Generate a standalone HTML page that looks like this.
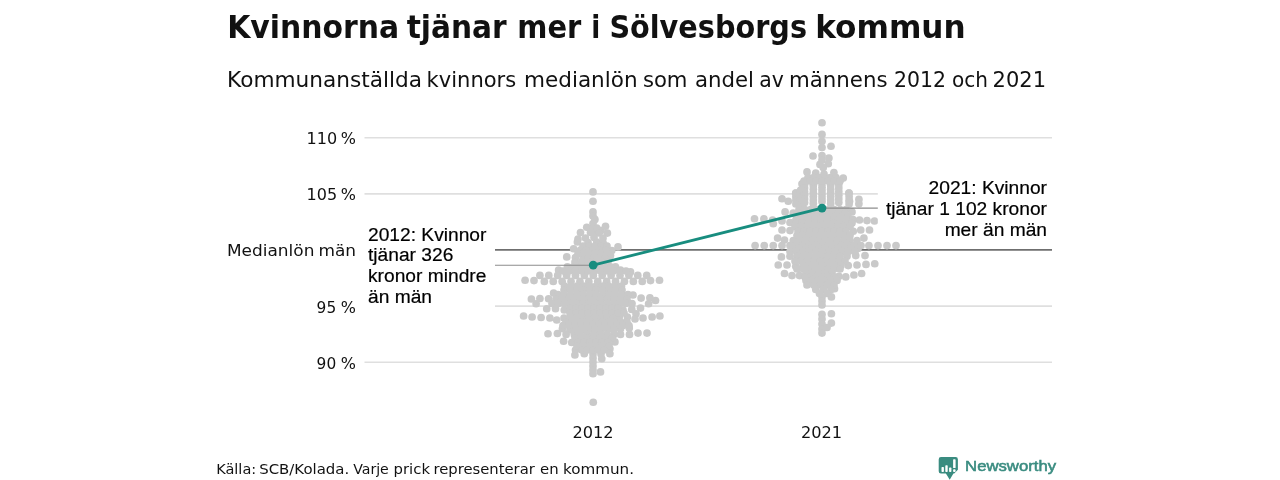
<!DOCTYPE html>
<html lang="sv">
<head>
<meta charset="utf-8">
<title>Kvinnorna tjänar mer i Sölvesborgs kommun</title>
<style>
html,body{margin:0;padding:0;background:#fff;}
body{width:1280px;height:480px;overflow:hidden;}
svg{display:block;will-change:transform;}
.os{font-family:"DejaVu Sans","Liberation Sans",sans-serif;fill:#111;}
.osb{font-family:"DejaVu Sans Condensed","DejaVu Sans","Liberation Sans",sans-serif;font-weight:bold;fill:#111;}
.ar{font-family:"Liberation Sans",Arial,Helvetica,sans-serif;fill:#000;stroke:#000;stroke-width:0.2px;font-size:19.2px;}
.tick{font-size:16.2px;}
</style>
</head>
<body>
<svg width="1280" height="480" viewBox="0 0 1280 480">
<rect width="1280" height="480" fill="#ffffff"/>

<!-- title -->
<g class="osb" font-size="32">
<text x="227.2" y="38" textLength="172" lengthAdjust="spacingAndGlyphs">Kvinnorna</text>
<text x="406.7" y="38" textLength="100" lengthAdjust="spacingAndGlyphs">tjänar</text>
<text x="517.3" y="38" textLength="64" lengthAdjust="spacingAndGlyphs">mer</text>
<text x="591.2" y="38" textLength="9" lengthAdjust="spacingAndGlyphs">i</text>
<text x="609.4" y="38" textLength="197.6" lengthAdjust="spacingAndGlyphs">Sölvesborgs</text>
<text x="815.3" y="38" textLength="150.4" lengthAdjust="spacingAndGlyphs">kommun</text>
</g>

<!-- subtitle -->
<g class="os" font-size="20.6">
<text x="227.1" y="86.75" textLength="195" lengthAdjust="spacingAndGlyphs">Kommunanställda</text>
<text x="426.6" y="86.75" textLength="89.6" lengthAdjust="spacingAndGlyphs">kvinnors</text>
<text x="524" y="86.75" textLength="113.6" lengthAdjust="spacingAndGlyphs">medianlön</text>
<text x="642.9" y="86.75" textLength="44.6" lengthAdjust="spacingAndGlyphs">som</text>
<text x="695" y="86.75" textLength="59" lengthAdjust="spacingAndGlyphs">andel</text>
<text x="759.2" y="86.75" textLength="24.6" lengthAdjust="spacingAndGlyphs">av</text>
<text x="789" y="86.75" textLength="98.6" lengthAdjust="spacingAndGlyphs">männens</text>
<text x="894" y="86.75" textLength="52" lengthAdjust="spacingAndGlyphs">2012</text>
<text x="952" y="86.75" textLength="36" lengthAdjust="spacingAndGlyphs">och</text>
<text x="992.6" y="86.75" textLength="53.4" lengthAdjust="spacingAndGlyphs">2021</text>
</g>

<!-- gridlines -->
<g stroke="#dfdfdf" stroke-width="1.6" fill="none">
<line x1="364.5" y1="137.7" x2="1052" y2="137.7"/>
<line x1="364.5" y1="193.9" x2="1052" y2="193.9"/>
<line x1="364.5" y1="306.1" x2="1052" y2="306.1"/>
<line x1="364.5" y1="362.3" x2="1052" y2="362.3"/>
</g>
<line x1="364.5" y1="249.9" x2="1052" y2="249.9" stroke="#6f6f6f" stroke-width="1.6"/>

<!-- y tick labels -->
<g class="os tick">
<text x="306.6" y="144" textLength="30.6" lengthAdjust="spacingAndGlyphs">110</text>
<text x="340.8" y="144" textLength="15.2" lengthAdjust="spacingAndGlyphs">%</text>
<text x="306.6" y="200.1" textLength="30.6" lengthAdjust="spacingAndGlyphs">105</text>
<text x="340.8" y="200.1" textLength="15.2" lengthAdjust="spacingAndGlyphs">%</text>
<text x="227" y="256.1" textLength="87.4" lengthAdjust="spacingAndGlyphs">Medianlön</text>
<text x="318.5" y="256.1" textLength="37.6" lengthAdjust="spacingAndGlyphs">män</text>
<text x="316.6" y="312.5" textLength="19.6" lengthAdjust="spacingAndGlyphs">95</text>
<text x="340.8" y="312.5" textLength="15.2" lengthAdjust="spacingAndGlyphs">%</text>
<text x="316.6" y="368.5" textLength="19.6" lengthAdjust="spacingAndGlyphs">90</text>
<text x="340.8" y="368.5" textLength="15.2" lengthAdjust="spacingAndGlyphs">%</text>
</g>

<!-- swarm 2012 -->
<g fill="#c9c9c9">
<circle cx="593.00" cy="191.90" r="3.85"/>
<circle cx="593.00" cy="201.25" r="3.85"/>
<circle cx="593.00" cy="211.90" r="3.85"/>
<circle cx="593.00" cy="216.00" r="3.85"/>
<circle cx="594.90" cy="219.40" r="3.85"/>
<circle cx="593.00" cy="223.50" r="3.85"/>
<circle cx="593.00" cy="228.50" r="3.85"/>
<circle cx="601.00" cy="230.50" r="3.85"/>
<circle cx="594.50" cy="233.50" r="3.85"/>
<circle cx="586.75" cy="227.25" r="3.85"/>
<circle cx="596.75" cy="228.10" r="3.85"/>
<circle cx="605.50" cy="226.25" r="3.85"/>
<circle cx="580.50" cy="232.50" r="3.85"/>
<circle cx="590.50" cy="232.50" r="3.85"/>
<circle cx="599.00" cy="233.00" r="3.85"/>
<circle cx="607.40" cy="233.10" r="3.85"/>
<circle cx="578.00" cy="239.00" r="3.85"/>
<circle cx="585.50" cy="238.00" r="3.85"/>
<circle cx="594.00" cy="237.50" r="3.85"/>
<circle cx="603.00" cy="238.00" r="3.85"/>
<circle cx="577.40" cy="242.00" r="3.85"/>
<circle cx="588.00" cy="242.50" r="3.85"/>
<circle cx="596.75" cy="242.00" r="3.85"/>
<circle cx="603.00" cy="242.50" r="3.85"/>
<circle cx="573.60" cy="248.75" r="3.85"/>
<circle cx="580.50" cy="250.00" r="3.85"/>
<circle cx="618.00" cy="246.90" r="3.85"/>
<circle cx="611.75" cy="250.60" r="3.85"/>
<circle cx="566.75" cy="256.90" r="3.85"/>
<circle cx="575.50" cy="257.50" r="3.85"/>
<circle cx="583.00" cy="258.75" r="3.85"/>
<circle cx="610.50" cy="255.60" r="3.85"/>
<circle cx="567.40" cy="266.90" r="3.85"/>
<circle cx="558.60" cy="270.00" r="3.85"/>
<circle cx="615.50" cy="266.90" r="3.85"/>
<circle cx="620.50" cy="270.00" r="3.85"/>
<circle cx="606.00" cy="267.00" r="3.85"/>
<circle cx="630.50" cy="271.90" r="3.85"/>
<circle cx="525.10" cy="280.25" r="3.85"/>
<circle cx="534.00" cy="280.60" r="3.85"/>
<circle cx="650.50" cy="280.60" r="3.85"/>
<circle cx="659.50" cy="280.25" r="3.85"/>
<circle cx="531.40" cy="299.00" r="3.85"/>
<circle cx="539.90" cy="298.50" r="3.85"/>
<circle cx="548.60" cy="298.75" r="3.85"/>
<circle cx="553.60" cy="293.10" r="3.85"/>
<circle cx="633.00" cy="295.00" r="3.85"/>
<circle cx="641.10" cy="298.10" r="3.85"/>
<circle cx="649.90" cy="297.75" r="3.85"/>
<circle cx="655.50" cy="300.50" r="3.85"/>
<circle cx="536.10" cy="303.75" r="3.85"/>
<circle cx="648.60" cy="303.75" r="3.85"/>
<circle cx="546.75" cy="308.75" r="3.85"/>
<circle cx="555.50" cy="308.75" r="3.85"/>
<circle cx="564.25" cy="310.00" r="3.85"/>
<circle cx="623.00" cy="310.00" r="3.85"/>
<circle cx="631.75" cy="309.40" r="3.85"/>
<circle cx="640.50" cy="308.10" r="3.85"/>
<circle cx="636.00" cy="313.75" r="3.85"/>
<circle cx="523.60" cy="316.00" r="3.85"/>
<circle cx="532.10" cy="317.00" r="3.85"/>
<circle cx="541.10" cy="317.50" r="3.85"/>
<circle cx="549.90" cy="318.00" r="3.85"/>
<circle cx="556.75" cy="320.00" r="3.85"/>
<circle cx="619.25" cy="317.00" r="3.85"/>
<circle cx="627.40" cy="317.00" r="3.85"/>
<circle cx="635.00" cy="319.00" r="3.85"/>
<circle cx="643.00" cy="318.00" r="3.85"/>
<circle cx="652.10" cy="317.00" r="3.85"/>
<circle cx="659.90" cy="316.00" r="3.85"/>
<circle cx="562.40" cy="328.75" r="3.85"/>
<circle cx="569.90" cy="330.00" r="3.85"/>
<circle cx="620.50" cy="328.75" r="3.85"/>
<circle cx="629.25" cy="328.10" r="3.85"/>
<circle cx="548.00" cy="333.75" r="3.85"/>
<circle cx="557.40" cy="333.50" r="3.85"/>
<circle cx="566.10" cy="334.40" r="3.85"/>
<circle cx="574.25" cy="334.40" r="3.85"/>
<circle cx="620.50" cy="334.40" r="3.85"/>
<circle cx="629.50" cy="334.40" r="3.85"/>
<circle cx="638.00" cy="333.10" r="3.85"/>
<circle cx="647.00" cy="333.10" r="3.85"/>
<circle cx="563.60" cy="341.25" r="3.85"/>
<circle cx="571.75" cy="342.50" r="3.85"/>
<circle cx="614.90" cy="341.90" r="3.85"/>
<circle cx="575.50" cy="350.00" r="3.85"/>
<circle cx="609.90" cy="348.75" r="3.85"/>
<circle cx="574.90" cy="355.00" r="3.85"/>
<circle cx="584.25" cy="353.75" r="3.85"/>
<circle cx="593.00" cy="354.00" r="3.85"/>
<circle cx="601.00" cy="354.00" r="3.85"/>
<circle cx="609.90" cy="353.75" r="3.85"/>
<circle cx="593.00" cy="358.00" r="3.85"/>
<circle cx="601.75" cy="358.75" r="3.85"/>
<circle cx="593.00" cy="362.00" r="3.85"/>
<circle cx="593.00" cy="366.00" r="3.85"/>
<circle cx="593.00" cy="370.00" r="3.85"/>
<circle cx="593.00" cy="373.75" r="3.85"/>
<circle cx="600.50" cy="371.90" r="3.85"/>
<circle cx="593.25" cy="402.25" r="3.85"/>
<circle cx="539.90" cy="275.40" r="3.85"/>
<circle cx="544.35" cy="281.40" r="3.85"/>
<circle cx="548.80" cy="275.40" r="3.85"/>
<circle cx="553.25" cy="281.40" r="3.85"/>
<circle cx="557.70" cy="275.40" r="3.85"/>
<circle cx="562.15" cy="281.40" r="3.85"/>
<circle cx="566.60" cy="275.40" r="3.85"/>
<circle cx="571.05" cy="281.40" r="3.85"/>
<circle cx="575.50" cy="275.40" r="3.85"/>
<circle cx="579.95" cy="281.40" r="3.85"/>
<circle cx="584.40" cy="275.40" r="3.85"/>
<circle cx="588.85" cy="281.40" r="3.85"/>
<circle cx="593.30" cy="275.40" r="3.85"/>
<circle cx="597.75" cy="281.40" r="3.85"/>
<circle cx="602.20" cy="275.40" r="3.85"/>
<circle cx="606.65" cy="281.40" r="3.85"/>
<circle cx="611.10" cy="275.40" r="3.85"/>
<circle cx="615.55" cy="281.40" r="3.85"/>
<circle cx="620.00" cy="275.40" r="3.85"/>
<circle cx="624.45" cy="281.40" r="3.85"/>
<circle cx="628.90" cy="275.40" r="3.85"/>
<circle cx="633.35" cy="281.40" r="3.85"/>
<circle cx="637.80" cy="275.40" r="3.85"/>
<circle cx="642.25" cy="281.40" r="3.85"/>
<circle cx="646.70" cy="275.40" r="3.85"/>
<circle cx="583.00" cy="246.00" r="3.85"/>
<circle cx="589.00" cy="246.00" r="3.85"/>
<circle cx="595.00" cy="246.00" r="3.85"/>
<circle cx="601.00" cy="246.00" r="3.85"/>
<circle cx="607.00" cy="246.00" r="3.85"/>
<circle cx="586.00" cy="250.00" r="3.85"/>
<circle cx="592.67" cy="250.00" r="3.85"/>
<circle cx="599.33" cy="250.00" r="3.85"/>
<circle cx="606.00" cy="250.00" r="3.85"/>
<circle cx="578.00" cy="253.50" r="3.85"/>
<circle cx="583.80" cy="253.50" r="3.85"/>
<circle cx="589.60" cy="253.50" r="3.85"/>
<circle cx="595.40" cy="253.50" r="3.85"/>
<circle cx="601.20" cy="253.50" r="3.85"/>
<circle cx="607.00" cy="253.50" r="3.85"/>
<circle cx="588.00" cy="258.00" r="3.85"/>
<circle cx="593.67" cy="258.00" r="3.85"/>
<circle cx="599.33" cy="258.00" r="3.85"/>
<circle cx="605.00" cy="258.00" r="3.85"/>
<circle cx="575.00" cy="262.00" r="3.85"/>
<circle cx="581.60" cy="262.00" r="3.85"/>
<circle cx="588.20" cy="262.00" r="3.85"/>
<circle cx="594.80" cy="262.00" r="3.85"/>
<circle cx="601.40" cy="262.00" r="3.85"/>
<circle cx="608.00" cy="262.00" r="3.85"/>
<circle cx="573.00" cy="267.00" r="3.85"/>
<circle cx="579.33" cy="267.00" r="3.85"/>
<circle cx="585.67" cy="267.00" r="3.85"/>
<circle cx="592.00" cy="267.00" r="3.85"/>
<circle cx="598.33" cy="267.00" r="3.85"/>
<circle cx="604.67" cy="267.00" r="3.85"/>
<circle cx="611.00" cy="267.00" r="3.85"/>
<circle cx="563.00" cy="271.00" r="3.85"/>
<circle cx="569.30" cy="271.00" r="3.85"/>
<circle cx="575.60" cy="271.00" r="3.85"/>
<circle cx="581.90" cy="271.00" r="3.85"/>
<circle cx="588.20" cy="271.00" r="3.85"/>
<circle cx="594.50" cy="271.00" r="3.85"/>
<circle cx="600.80" cy="271.00" r="3.85"/>
<circle cx="607.10" cy="271.00" r="3.85"/>
<circle cx="613.40" cy="271.00" r="3.85"/>
<circle cx="619.70" cy="271.00" r="3.85"/>
<circle cx="626.00" cy="271.00" r="3.85"/>
<circle cx="564.50" cy="286.00" r="3.85"/>
<circle cx="570.83" cy="286.00" r="3.85"/>
<circle cx="577.17" cy="286.00" r="3.85"/>
<circle cx="583.50" cy="286.00" r="3.85"/>
<circle cx="589.83" cy="286.00" r="3.85"/>
<circle cx="596.17" cy="286.00" r="3.85"/>
<circle cx="602.50" cy="286.00" r="3.85"/>
<circle cx="608.83" cy="286.00" r="3.85"/>
<circle cx="615.17" cy="286.00" r="3.85"/>
<circle cx="621.50" cy="286.00" r="3.85"/>
<circle cx="564.00" cy="290.00" r="3.85"/>
<circle cx="570.44" cy="290.00" r="3.85"/>
<circle cx="576.89" cy="290.00" r="3.85"/>
<circle cx="583.33" cy="290.00" r="3.85"/>
<circle cx="589.78" cy="290.00" r="3.85"/>
<circle cx="596.22" cy="290.00" r="3.85"/>
<circle cx="602.67" cy="290.00" r="3.85"/>
<circle cx="609.11" cy="290.00" r="3.85"/>
<circle cx="615.56" cy="290.00" r="3.85"/>
<circle cx="622.00" cy="290.00" r="3.85"/>
<circle cx="558.00" cy="294.50" r="3.85"/>
<circle cx="564.36" cy="294.50" r="3.85"/>
<circle cx="570.73" cy="294.50" r="3.85"/>
<circle cx="577.09" cy="294.50" r="3.85"/>
<circle cx="583.45" cy="294.50" r="3.85"/>
<circle cx="589.82" cy="294.50" r="3.85"/>
<circle cx="596.18" cy="294.50" r="3.85"/>
<circle cx="602.55" cy="294.50" r="3.85"/>
<circle cx="608.91" cy="294.50" r="3.85"/>
<circle cx="615.27" cy="294.50" r="3.85"/>
<circle cx="621.64" cy="294.50" r="3.85"/>
<circle cx="628.00" cy="294.50" r="3.85"/>
<circle cx="556.00" cy="299.00" r="3.85"/>
<circle cx="562.45" cy="299.00" r="3.85"/>
<circle cx="568.91" cy="299.00" r="3.85"/>
<circle cx="575.36" cy="299.00" r="3.85"/>
<circle cx="581.82" cy="299.00" r="3.85"/>
<circle cx="588.27" cy="299.00" r="3.85"/>
<circle cx="594.73" cy="299.00" r="3.85"/>
<circle cx="601.18" cy="299.00" r="3.85"/>
<circle cx="607.64" cy="299.00" r="3.85"/>
<circle cx="614.09" cy="299.00" r="3.85"/>
<circle cx="620.55" cy="299.00" r="3.85"/>
<circle cx="627.00" cy="299.00" r="3.85"/>
<circle cx="552.00" cy="303.50" r="3.85"/>
<circle cx="558.15" cy="303.50" r="3.85"/>
<circle cx="564.31" cy="303.50" r="3.85"/>
<circle cx="570.46" cy="303.50" r="3.85"/>
<circle cx="576.62" cy="303.50" r="3.85"/>
<circle cx="582.77" cy="303.50" r="3.85"/>
<circle cx="588.92" cy="303.50" r="3.85"/>
<circle cx="595.08" cy="303.50" r="3.85"/>
<circle cx="601.23" cy="303.50" r="3.85"/>
<circle cx="607.38" cy="303.50" r="3.85"/>
<circle cx="613.54" cy="303.50" r="3.85"/>
<circle cx="619.69" cy="303.50" r="3.85"/>
<circle cx="625.85" cy="303.50" r="3.85"/>
<circle cx="632.00" cy="303.50" r="3.85"/>
<circle cx="570.00" cy="308.00" r="3.85"/>
<circle cx="576.00" cy="308.00" r="3.85"/>
<circle cx="582.00" cy="308.00" r="3.85"/>
<circle cx="588.00" cy="308.00" r="3.85"/>
<circle cx="594.00" cy="308.00" r="3.85"/>
<circle cx="600.00" cy="308.00" r="3.85"/>
<circle cx="606.00" cy="308.00" r="3.85"/>
<circle cx="612.00" cy="308.00" r="3.85"/>
<circle cx="618.00" cy="308.00" r="3.85"/>
<circle cx="570.00" cy="313.00" r="3.85"/>
<circle cx="576.00" cy="313.00" r="3.85"/>
<circle cx="582.00" cy="313.00" r="3.85"/>
<circle cx="588.00" cy="313.00" r="3.85"/>
<circle cx="594.00" cy="313.00" r="3.85"/>
<circle cx="600.00" cy="313.00" r="3.85"/>
<circle cx="606.00" cy="313.00" r="3.85"/>
<circle cx="612.00" cy="313.00" r="3.85"/>
<circle cx="618.00" cy="313.00" r="3.85"/>
<circle cx="624.00" cy="313.00" r="3.85"/>
<circle cx="564.00" cy="318.00" r="3.85"/>
<circle cx="570.12" cy="318.00" r="3.85"/>
<circle cx="576.25" cy="318.00" r="3.85"/>
<circle cx="582.38" cy="318.00" r="3.85"/>
<circle cx="588.50" cy="318.00" r="3.85"/>
<circle cx="594.62" cy="318.00" r="3.85"/>
<circle cx="600.75" cy="318.00" r="3.85"/>
<circle cx="606.88" cy="318.00" r="3.85"/>
<circle cx="613.00" cy="318.00" r="3.85"/>
<circle cx="566.00" cy="322.00" r="3.85"/>
<circle cx="572.10" cy="322.00" r="3.85"/>
<circle cx="578.20" cy="322.00" r="3.85"/>
<circle cx="584.30" cy="322.00" r="3.85"/>
<circle cx="590.40" cy="322.00" r="3.85"/>
<circle cx="596.50" cy="322.00" r="3.85"/>
<circle cx="602.60" cy="322.00" r="3.85"/>
<circle cx="608.70" cy="322.00" r="3.85"/>
<circle cx="614.80" cy="322.00" r="3.85"/>
<circle cx="620.90" cy="322.00" r="3.85"/>
<circle cx="627.00" cy="322.00" r="3.85"/>
<circle cx="563.00" cy="325.50" r="3.85"/>
<circle cx="569.00" cy="325.50" r="3.85"/>
<circle cx="575.00" cy="325.50" r="3.85"/>
<circle cx="581.00" cy="325.50" r="3.85"/>
<circle cx="587.00" cy="325.50" r="3.85"/>
<circle cx="593.00" cy="325.50" r="3.85"/>
<circle cx="599.00" cy="325.50" r="3.85"/>
<circle cx="605.00" cy="325.50" r="3.85"/>
<circle cx="611.00" cy="325.50" r="3.85"/>
<circle cx="617.00" cy="325.50" r="3.85"/>
<circle cx="623.00" cy="325.50" r="3.85"/>
<circle cx="629.00" cy="325.50" r="3.85"/>
<circle cx="576.00" cy="329.50" r="3.85"/>
<circle cx="582.33" cy="329.50" r="3.85"/>
<circle cx="588.67" cy="329.50" r="3.85"/>
<circle cx="595.00" cy="329.50" r="3.85"/>
<circle cx="601.33" cy="329.50" r="3.85"/>
<circle cx="607.67" cy="329.50" r="3.85"/>
<circle cx="614.00" cy="329.50" r="3.85"/>
<circle cx="580.00" cy="334.40" r="3.85"/>
<circle cx="586.80" cy="334.40" r="3.85"/>
<circle cx="593.60" cy="334.40" r="3.85"/>
<circle cx="600.40" cy="334.40" r="3.85"/>
<circle cx="607.20" cy="334.40" r="3.85"/>
<circle cx="614.00" cy="334.40" r="3.85"/>
<circle cx="575.00" cy="338.00" r="3.85"/>
<circle cx="581.17" cy="338.00" r="3.85"/>
<circle cx="587.33" cy="338.00" r="3.85"/>
<circle cx="593.50" cy="338.00" r="3.85"/>
<circle cx="599.67" cy="338.00" r="3.85"/>
<circle cx="605.83" cy="338.00" r="3.85"/>
<circle cx="612.00" cy="338.00" r="3.85"/>
<circle cx="578.00" cy="342.00" r="3.85"/>
<circle cx="584.00" cy="342.00" r="3.85"/>
<circle cx="590.00" cy="342.00" r="3.85"/>
<circle cx="596.00" cy="342.00" r="3.85"/>
<circle cx="602.00" cy="342.00" r="3.85"/>
<circle cx="608.00" cy="342.00" r="3.85"/>
<circle cx="577.00" cy="346.00" r="3.85"/>
<circle cx="583.40" cy="346.00" r="3.85"/>
<circle cx="589.80" cy="346.00" r="3.85"/>
<circle cx="596.20" cy="346.00" r="3.85"/>
<circle cx="602.60" cy="346.00" r="3.85"/>
<circle cx="609.00" cy="346.00" r="3.85"/>
<circle cx="582.00" cy="350.00" r="3.85"/>
<circle cx="587.50" cy="350.00" r="3.85"/>
<circle cx="593.00" cy="350.00" r="3.85"/>
<circle cx="598.50" cy="350.00" r="3.85"/>
<circle cx="604.00" cy="350.00" r="3.85"/>
</g>
<!-- swarm 2021 -->
<g fill="#c9c9c9">
<circle cx="822.00" cy="122.75" r="3.85"/>
<circle cx="822.00" cy="134.40" r="3.85"/>
<circle cx="822.00" cy="141.25" r="3.85"/>
<circle cx="822.00" cy="147.50" r="3.85"/>
<circle cx="831.00" cy="146.25" r="3.85"/>
<circle cx="813.00" cy="156.00" r="3.85"/>
<circle cx="822.00" cy="155.60" r="3.85"/>
<circle cx="828.90" cy="158.10" r="3.85"/>
<circle cx="822.00" cy="160.00" r="3.85"/>
<circle cx="820.00" cy="164.40" r="3.85"/>
<circle cx="828.25" cy="163.75" r="3.85"/>
<circle cx="823.25" cy="167.50" r="3.85"/>
<circle cx="807.00" cy="171.90" r="3.85"/>
<circle cx="815.75" cy="173.10" r="3.85"/>
<circle cx="824.00" cy="174.00" r="3.85"/>
<circle cx="833.90" cy="172.50" r="3.85"/>
<circle cx="843.25" cy="178.10" r="3.85"/>
<circle cx="802.00" cy="183.75" r="3.85"/>
<circle cx="795.75" cy="193.10" r="3.85"/>
<circle cx="782.00" cy="198.75" r="3.85"/>
<circle cx="788.25" cy="201.25" r="3.85"/>
<circle cx="848.90" cy="193.10" r="3.85"/>
<circle cx="849.50" cy="201.25" r="3.85"/>
<circle cx="858.90" cy="199.40" r="3.85"/>
<circle cx="858.90" cy="203.75" r="3.85"/>
<circle cx="785.10" cy="211.90" r="3.85"/>
<circle cx="793.25" cy="213.10" r="3.85"/>
<circle cx="852.00" cy="211.90" r="3.85"/>
<circle cx="754.50" cy="218.75" r="3.85"/>
<circle cx="763.90" cy="218.75" r="3.85"/>
<circle cx="772.60" cy="220.00" r="3.85"/>
<circle cx="782.00" cy="221.00" r="3.85"/>
<circle cx="790.00" cy="222.50" r="3.85"/>
<circle cx="859.50" cy="220.00" r="3.85"/>
<circle cx="867.00" cy="220.60" r="3.85"/>
<circle cx="874.50" cy="221.00" r="3.85"/>
<circle cx="773.25" cy="223.75" r="3.85"/>
<circle cx="782.00" cy="230.00" r="3.85"/>
<circle cx="790.00" cy="230.60" r="3.85"/>
<circle cx="853.25" cy="231.25" r="3.85"/>
<circle cx="860.75" cy="230.00" r="3.85"/>
<circle cx="869.50" cy="230.00" r="3.85"/>
<circle cx="777.60" cy="238.10" r="3.85"/>
<circle cx="784.50" cy="240.00" r="3.85"/>
<circle cx="793.25" cy="240.60" r="3.85"/>
<circle cx="857.00" cy="240.60" r="3.85"/>
<circle cx="863.90" cy="238.10" r="3.85"/>
<circle cx="755.10" cy="245.60" r="3.85"/>
<circle cx="764.25" cy="245.60" r="3.85"/>
<circle cx="773.25" cy="245.60" r="3.85"/>
<circle cx="782.00" cy="245.60" r="3.85"/>
<circle cx="868.90" cy="245.60" r="3.85"/>
<circle cx="878.00" cy="245.60" r="3.85"/>
<circle cx="887.00" cy="245.60" r="3.85"/>
<circle cx="896.00" cy="245.60" r="3.85"/>
<circle cx="781.40" cy="256.90" r="3.85"/>
<circle cx="790.00" cy="256.25" r="3.85"/>
<circle cx="847.00" cy="256.25" r="3.85"/>
<circle cx="855.75" cy="255.60" r="3.85"/>
<circle cx="865.00" cy="255.60" r="3.85"/>
<circle cx="778.25" cy="265.00" r="3.85"/>
<circle cx="787.00" cy="265.00" r="3.85"/>
<circle cx="795.75" cy="266.25" r="3.85"/>
<circle cx="848.25" cy="265.60" r="3.85"/>
<circle cx="857.00" cy="265.00" r="3.85"/>
<circle cx="866.00" cy="264.40" r="3.85"/>
<circle cx="874.75" cy="263.75" r="3.85"/>
<circle cx="784.50" cy="273.50" r="3.85"/>
<circle cx="792.00" cy="275.60" r="3.85"/>
<circle cx="799.50" cy="275.60" r="3.85"/>
<circle cx="838.90" cy="276.25" r="3.85"/>
<circle cx="845.75" cy="276.90" r="3.85"/>
<circle cx="853.90" cy="275.00" r="3.85"/>
<circle cx="861.60" cy="273.50" r="3.85"/>
<circle cx="834.50" cy="288.75" r="3.85"/>
<circle cx="831.40" cy="296.90" r="3.85"/>
<circle cx="822.00" cy="297.00" r="3.85"/>
<circle cx="822.00" cy="301.00" r="3.85"/>
<circle cx="822.00" cy="305.00" r="3.85"/>
<circle cx="822.00" cy="314.40" r="3.85"/>
<circle cx="822.00" cy="319.00" r="3.85"/>
<circle cx="822.00" cy="324.00" r="3.85"/>
<circle cx="822.00" cy="329.00" r="3.85"/>
<circle cx="822.00" cy="333.10" r="3.85"/>
<circle cx="831.40" cy="313.75" r="3.85"/>
<circle cx="831.40" cy="323.10" r="3.85"/>
<circle cx="827.00" cy="327.50" r="3.85"/>
<circle cx="795.90" cy="193.10" r="3.85"/>
<circle cx="795.90" cy="196.70" r="3.85"/>
<circle cx="795.90" cy="200.30" r="3.85"/>
<circle cx="795.90" cy="203.90" r="3.85"/>
<circle cx="800.68" cy="190.00" r="3.85"/>
<circle cx="800.68" cy="193.60" r="3.85"/>
<circle cx="800.68" cy="197.20" r="3.85"/>
<circle cx="800.68" cy="200.80" r="3.85"/>
<circle cx="800.68" cy="204.40" r="3.85"/>
<circle cx="804.60" cy="184.50" r="3.85"/>
<circle cx="804.60" cy="188.10" r="3.85"/>
<circle cx="804.60" cy="191.70" r="3.85"/>
<circle cx="804.60" cy="195.30" r="3.85"/>
<circle cx="804.60" cy="198.90" r="3.85"/>
<circle cx="804.60" cy="202.50" r="3.85"/>
<circle cx="813.30" cy="182.00" r="3.85"/>
<circle cx="813.30" cy="185.60" r="3.85"/>
<circle cx="813.30" cy="189.20" r="3.85"/>
<circle cx="813.30" cy="192.80" r="3.85"/>
<circle cx="813.30" cy="196.40" r="3.85"/>
<circle cx="813.30" cy="200.00" r="3.85"/>
<circle cx="813.30" cy="203.60" r="3.85"/>
<circle cx="822.00" cy="180.00" r="3.85"/>
<circle cx="822.00" cy="183.60" r="3.85"/>
<circle cx="822.00" cy="187.20" r="3.85"/>
<circle cx="822.00" cy="190.80" r="3.85"/>
<circle cx="822.00" cy="194.40" r="3.85"/>
<circle cx="822.00" cy="198.00" r="3.85"/>
<circle cx="822.00" cy="201.60" r="3.85"/>
<circle cx="830.70" cy="182.00" r="3.85"/>
<circle cx="830.70" cy="185.60" r="3.85"/>
<circle cx="830.70" cy="189.20" r="3.85"/>
<circle cx="830.70" cy="192.80" r="3.85"/>
<circle cx="830.70" cy="196.40" r="3.85"/>
<circle cx="830.70" cy="200.00" r="3.85"/>
<circle cx="830.70" cy="203.60" r="3.85"/>
<circle cx="838.80" cy="184.50" r="3.85"/>
<circle cx="838.80" cy="188.10" r="3.85"/>
<circle cx="838.80" cy="191.70" r="3.85"/>
<circle cx="838.80" cy="195.30" r="3.85"/>
<circle cx="838.80" cy="198.90" r="3.85"/>
<circle cx="838.80" cy="202.50" r="3.85"/>
<circle cx="849.10" cy="193.10" r="3.85"/>
<circle cx="849.10" cy="196.70" r="3.85"/>
<circle cx="849.10" cy="200.30" r="3.85"/>
<circle cx="849.10" cy="203.90" r="3.85"/>
<circle cx="808.00" cy="177.50" r="3.85"/>
<circle cx="813.60" cy="177.50" r="3.85"/>
<circle cx="819.20" cy="177.50" r="3.85"/>
<circle cx="824.80" cy="177.50" r="3.85"/>
<circle cx="830.40" cy="177.50" r="3.85"/>
<circle cx="836.00" cy="177.50" r="3.85"/>
<circle cx="804.00" cy="181.00" r="3.85"/>
<circle cx="810.00" cy="181.00" r="3.85"/>
<circle cx="816.00" cy="181.00" r="3.85"/>
<circle cx="822.00" cy="181.00" r="3.85"/>
<circle cx="828.00" cy="181.00" r="3.85"/>
<circle cx="834.00" cy="181.00" r="3.85"/>
<circle cx="840.00" cy="181.00" r="3.85"/>
<circle cx="799.00" cy="209.50" r="3.85"/>
<circle cx="804.88" cy="209.50" r="3.85"/>
<circle cx="810.75" cy="209.50" r="3.85"/>
<circle cx="816.62" cy="209.50" r="3.85"/>
<circle cx="822.50" cy="209.50" r="3.85"/>
<circle cx="828.38" cy="209.50" r="3.85"/>
<circle cx="834.25" cy="209.50" r="3.85"/>
<circle cx="840.12" cy="209.50" r="3.85"/>
<circle cx="846.00" cy="209.50" r="3.85"/>
<circle cx="800.00" cy="213.00" r="3.85"/>
<circle cx="806.43" cy="213.00" r="3.85"/>
<circle cx="812.86" cy="213.00" r="3.85"/>
<circle cx="819.29" cy="213.00" r="3.85"/>
<circle cx="825.71" cy="213.00" r="3.85"/>
<circle cx="832.14" cy="213.00" r="3.85"/>
<circle cx="838.57" cy="213.00" r="3.85"/>
<circle cx="845.00" cy="213.00" r="3.85"/>
<circle cx="798.00" cy="216.50" r="3.85"/>
<circle cx="804.25" cy="216.50" r="3.85"/>
<circle cx="810.50" cy="216.50" r="3.85"/>
<circle cx="816.75" cy="216.50" r="3.85"/>
<circle cx="823.00" cy="216.50" r="3.85"/>
<circle cx="829.25" cy="216.50" r="3.85"/>
<circle cx="835.50" cy="216.50" r="3.85"/>
<circle cx="841.75" cy="216.50" r="3.85"/>
<circle cx="848.00" cy="216.50" r="3.85"/>
<circle cx="796.00" cy="219.50" r="3.85"/>
<circle cx="802.33" cy="219.50" r="3.85"/>
<circle cx="808.67" cy="219.50" r="3.85"/>
<circle cx="815.00" cy="219.50" r="3.85"/>
<circle cx="821.33" cy="219.50" r="3.85"/>
<circle cx="827.67" cy="219.50" r="3.85"/>
<circle cx="834.00" cy="219.50" r="3.85"/>
<circle cx="840.33" cy="219.50" r="3.85"/>
<circle cx="846.67" cy="219.50" r="3.85"/>
<circle cx="853.00" cy="219.50" r="3.85"/>
<circle cx="796.00" cy="223.00" r="3.85"/>
<circle cx="802.22" cy="223.00" r="3.85"/>
<circle cx="808.44" cy="223.00" r="3.85"/>
<circle cx="814.67" cy="223.00" r="3.85"/>
<circle cx="820.89" cy="223.00" r="3.85"/>
<circle cx="827.11" cy="223.00" r="3.85"/>
<circle cx="833.33" cy="223.00" r="3.85"/>
<circle cx="839.56" cy="223.00" r="3.85"/>
<circle cx="845.78" cy="223.00" r="3.85"/>
<circle cx="852.00" cy="223.00" r="3.85"/>
<circle cx="795.00" cy="226.50" r="3.85"/>
<circle cx="801.11" cy="226.50" r="3.85"/>
<circle cx="807.22" cy="226.50" r="3.85"/>
<circle cx="813.33" cy="226.50" r="3.85"/>
<circle cx="819.44" cy="226.50" r="3.85"/>
<circle cx="825.56" cy="226.50" r="3.85"/>
<circle cx="831.67" cy="226.50" r="3.85"/>
<circle cx="837.78" cy="226.50" r="3.85"/>
<circle cx="843.89" cy="226.50" r="3.85"/>
<circle cx="850.00" cy="226.50" r="3.85"/>
<circle cx="798.00" cy="231.00" r="3.85"/>
<circle cx="804.00" cy="231.00" r="3.85"/>
<circle cx="810.00" cy="231.00" r="3.85"/>
<circle cx="816.00" cy="231.00" r="3.85"/>
<circle cx="822.00" cy="231.00" r="3.85"/>
<circle cx="828.00" cy="231.00" r="3.85"/>
<circle cx="834.00" cy="231.00" r="3.85"/>
<circle cx="840.00" cy="231.00" r="3.85"/>
<circle cx="846.00" cy="231.00" r="3.85"/>
<circle cx="797.00" cy="235.50" r="3.85"/>
<circle cx="802.89" cy="235.50" r="3.85"/>
<circle cx="808.78" cy="235.50" r="3.85"/>
<circle cx="814.67" cy="235.50" r="3.85"/>
<circle cx="820.56" cy="235.50" r="3.85"/>
<circle cx="826.44" cy="235.50" r="3.85"/>
<circle cx="832.33" cy="235.50" r="3.85"/>
<circle cx="838.22" cy="235.50" r="3.85"/>
<circle cx="844.11" cy="235.50" r="3.85"/>
<circle cx="850.00" cy="235.50" r="3.85"/>
<circle cx="800.00" cy="240.60" r="3.85"/>
<circle cx="806.25" cy="240.60" r="3.85"/>
<circle cx="812.50" cy="240.60" r="3.85"/>
<circle cx="818.75" cy="240.60" r="3.85"/>
<circle cx="825.00" cy="240.60" r="3.85"/>
<circle cx="831.25" cy="240.60" r="3.85"/>
<circle cx="837.50" cy="240.60" r="3.85"/>
<circle cx="843.75" cy="240.60" r="3.85"/>
<circle cx="850.00" cy="240.60" r="3.85"/>
<circle cx="790.00" cy="245.60" r="3.85"/>
<circle cx="796.45" cy="245.60" r="3.85"/>
<circle cx="802.91" cy="245.60" r="3.85"/>
<circle cx="809.36" cy="245.60" r="3.85"/>
<circle cx="815.82" cy="245.60" r="3.85"/>
<circle cx="822.27" cy="245.60" r="3.85"/>
<circle cx="828.73" cy="245.60" r="3.85"/>
<circle cx="835.18" cy="245.60" r="3.85"/>
<circle cx="841.64" cy="245.60" r="3.85"/>
<circle cx="848.09" cy="245.60" r="3.85"/>
<circle cx="854.55" cy="245.60" r="3.85"/>
<circle cx="861.00" cy="245.60" r="3.85"/>
<circle cx="793.00" cy="248.50" r="3.85"/>
<circle cx="799.50" cy="248.50" r="3.85"/>
<circle cx="806.00" cy="248.50" r="3.85"/>
<circle cx="812.50" cy="248.50" r="3.85"/>
<circle cx="819.00" cy="248.50" r="3.85"/>
<circle cx="825.50" cy="248.50" r="3.85"/>
<circle cx="832.00" cy="248.50" r="3.85"/>
<circle cx="838.50" cy="248.50" r="3.85"/>
<circle cx="845.00" cy="248.50" r="3.85"/>
<circle cx="851.50" cy="248.50" r="3.85"/>
<circle cx="858.00" cy="248.50" r="3.85"/>
<circle cx="790.00" cy="251.50" r="3.85"/>
<circle cx="796.50" cy="251.50" r="3.85"/>
<circle cx="803.00" cy="251.50" r="3.85"/>
<circle cx="809.50" cy="251.50" r="3.85"/>
<circle cx="816.00" cy="251.50" r="3.85"/>
<circle cx="822.50" cy="251.50" r="3.85"/>
<circle cx="829.00" cy="251.50" r="3.85"/>
<circle cx="835.50" cy="251.50" r="3.85"/>
<circle cx="842.00" cy="251.50" r="3.85"/>
<circle cx="848.50" cy="251.50" r="3.85"/>
<circle cx="855.00" cy="251.50" r="3.85"/>
<circle cx="797.00" cy="256.00" r="3.85"/>
<circle cx="803.14" cy="256.00" r="3.85"/>
<circle cx="809.29" cy="256.00" r="3.85"/>
<circle cx="815.43" cy="256.00" r="3.85"/>
<circle cx="821.57" cy="256.00" r="3.85"/>
<circle cx="827.71" cy="256.00" r="3.85"/>
<circle cx="833.86" cy="256.00" r="3.85"/>
<circle cx="840.00" cy="256.00" r="3.85"/>
<circle cx="795.00" cy="261.00" r="3.85"/>
<circle cx="801.25" cy="261.00" r="3.85"/>
<circle cx="807.50" cy="261.00" r="3.85"/>
<circle cx="813.75" cy="261.00" r="3.85"/>
<circle cx="820.00" cy="261.00" r="3.85"/>
<circle cx="826.25" cy="261.00" r="3.85"/>
<circle cx="832.50" cy="261.00" r="3.85"/>
<circle cx="838.75" cy="261.00" r="3.85"/>
<circle cx="845.00" cy="261.00" r="3.85"/>
<circle cx="803.00" cy="265.60" r="3.85"/>
<circle cx="809.33" cy="265.60" r="3.85"/>
<circle cx="815.67" cy="265.60" r="3.85"/>
<circle cx="822.00" cy="265.60" r="3.85"/>
<circle cx="828.33" cy="265.60" r="3.85"/>
<circle cx="834.67" cy="265.60" r="3.85"/>
<circle cx="841.00" cy="265.60" r="3.85"/>
<circle cx="797.00" cy="269.00" r="3.85"/>
<circle cx="803.14" cy="269.00" r="3.85"/>
<circle cx="809.29" cy="269.00" r="3.85"/>
<circle cx="815.43" cy="269.00" r="3.85"/>
<circle cx="821.57" cy="269.00" r="3.85"/>
<circle cx="827.71" cy="269.00" r="3.85"/>
<circle cx="833.86" cy="269.00" r="3.85"/>
<circle cx="840.00" cy="269.00" r="3.85"/>
<circle cx="806.00" cy="273.50" r="3.85"/>
<circle cx="812.50" cy="273.50" r="3.85"/>
<circle cx="819.00" cy="273.50" r="3.85"/>
<circle cx="825.50" cy="273.50" r="3.85"/>
<circle cx="832.00" cy="273.50" r="3.85"/>
<circle cx="805.00" cy="277.00" r="3.85"/>
<circle cx="810.80" cy="277.00" r="3.85"/>
<circle cx="816.60" cy="277.00" r="3.85"/>
<circle cx="822.40" cy="277.00" r="3.85"/>
<circle cx="828.20" cy="277.00" r="3.85"/>
<circle cx="834.00" cy="277.00" r="3.85"/>
<circle cx="806.00" cy="280.50" r="3.85"/>
<circle cx="812.20" cy="280.50" r="3.85"/>
<circle cx="818.40" cy="280.50" r="3.85"/>
<circle cx="824.60" cy="280.50" r="3.85"/>
<circle cx="830.80" cy="280.50" r="3.85"/>
<circle cx="837.00" cy="280.50" r="3.85"/>
<circle cx="807.00" cy="285.00" r="3.85"/>
<circle cx="813.75" cy="285.00" r="3.85"/>
<circle cx="820.50" cy="285.00" r="3.85"/>
<circle cx="827.25" cy="285.00" r="3.85"/>
<circle cx="834.00" cy="285.00" r="3.85"/>
<circle cx="815.80" cy="289.50" r="3.85"/>
<circle cx="823.40" cy="289.50" r="3.85"/>
<circle cx="831.00" cy="289.50" r="3.85"/>
<circle cx="819.50" cy="293.50" r="3.85"/>
<circle cx="827.00" cy="293.50" r="3.85"/>
</g>

<!-- annotation backgrounds -->
<rect x="364" y="222" width="131" height="88" fill="#ffffff"/>
<rect x="877.8" y="176" width="180" height="64" fill="#ffffff"/>

<!-- annotation connectors -->
<line x1="495" y1="265.2" x2="593.2" y2="265.2" stroke="#8c8c8c" stroke-width="1.1"/>
<line x1="822" y1="208.1" x2="877.8" y2="208.1" stroke="#8c8c8c" stroke-width="1.1"/>

<!-- trend line -->
<line x1="593.2" y1="265.1" x2="822" y2="208.1" stroke="#188d7f" stroke-width="2.8" stroke-linecap="round"/>
<circle cx="593.2" cy="265.1" r="4.4" fill="#188d7f"/>
<circle cx="822" cy="208.1" r="4.4" fill="#188d7f"/>

<!-- annotations -->
<g class="ar">
<text x="368" y="240.6">2012: Kvinnor</text>
<text x="368" y="261.3">tjänar 326</text>
<text x="368" y="282">kronor mindre</text>
<text x="368" y="302.7">än män</text>
</g>
<g class="ar" text-anchor="end">
<text x="1047" y="194.3">2021: Kvinnor</text>
<text x="1047" y="214.9">tjänar 1 102 kronor</text>
<text x="1047" y="235.5">mer än män</text>
</g>

<!-- x tick labels -->
<g class="os tick" text-anchor="middle">
<text x="593" y="437.5">2012</text>
<text x="821.5" y="437.5">2021</text>
</g>

<!-- source -->
<g class="os" font-size="14.1">
<text x="216.2" y="473.7" textLength="40" lengthAdjust="spacingAndGlyphs">Källa:</text>
<text x="259.2" y="473.7" textLength="90" lengthAdjust="spacingAndGlyphs">SCB/Kolada.</text>
<text x="353.2" y="473.7" textLength="35.6" lengthAdjust="spacingAndGlyphs">Varje</text>
<text x="393.6" y="473.7" textLength="36.4" lengthAdjust="spacingAndGlyphs">prick</text>
<text x="433.4" y="473.7" textLength="101.4" lengthAdjust="spacingAndGlyphs">representerar</text>
<text x="540" y="473.7" textLength="18.6" lengthAdjust="spacingAndGlyphs">en</text>
<text x="563" y="473.7" textLength="71" lengthAdjust="spacingAndGlyphs">kommun.</text>
</g>

<!-- logo -->
<g>
<path d="M941 457.1h14.6a2.3 2.3 0 0 1 2.3 2.3v10.4l-3.7 3.7h-0.8l-3.7 6.3-3.8-6.3h-4.9a2.3 2.3 0 0 1-2.3-2.3v-11.8a2.3 2.3 0 0 1 2.3-2.3z" fill="#3a8c80"/>
<g fill="#ffffff">
<rect x="941.5" y="467" width="2.4" height="5" rx="0.7"/>
<rect x="945.3" y="465.3" width="2.4" height="6.7" rx="0.7"/>
<rect x="949.1" y="467.6" width="2.3" height="4.4" rx="0.7"/>
<rect x="953.1" y="459.3" width="2.5" height="8.8" rx="0.6"/>
<rect x="953.1" y="469.3" width="2.5" height="2.7" rx="0.8"/>
</g>
<text x="965.1" y="471.4" font-family="'Liberation Sans',Arial,sans-serif" font-size="15.2" fill="#3a8c80" stroke="#3a8c80" stroke-width="0.55" textLength="91" lengthAdjust="spacingAndGlyphs">Newsworthy</text>
</g>
</svg>
</body>
</html>
